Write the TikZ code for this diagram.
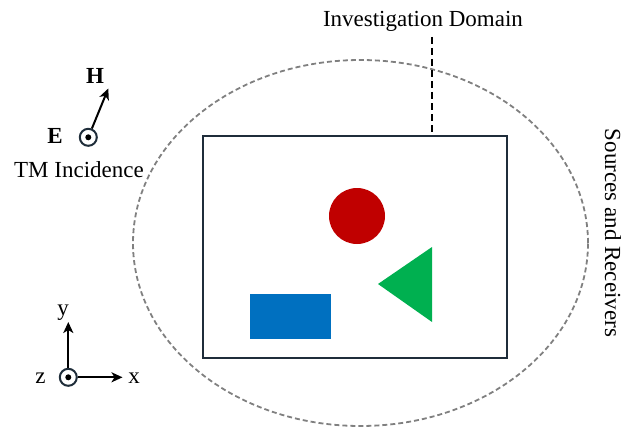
\documentclass[tikz,border=0pt]{standalone}
\usepackage{fontspec}
\setmainfont{Liberation Serif}
\usetikzlibrary{arrows.meta,shapes.geometric}
\definecolor{navy}{HTML}{1F2D3A}
\definecolor{dred}{HTML}{C00000}
\definecolor{dgreen}{HTML}{00B050}
\definecolor{dblue}{HTML}{0070C0}
\definecolor{dgray}{HTML}{808080}
\tikzset{
  lbl/.style={font=\fontsize{23}{27}\selectfont, inner sep=0pt},
  blbl/.style={font=\fontsize{23}{27}\selectfont\bfseries, inner sep=0pt},
  domainbox/.style={draw=navy, line width=2.2pt, minimum width=304pt, minimum height=222pt, inner sep=0pt},
  srcring/.style={ellipse, draw=dgray, line width=1.8pt, dash pattern=on 5pt off 3pt, minimum width=455pt, minimum height=366pt, inner sep=0pt},
  fieldring/.style={circle, draw=navy, line width=2pt, minimum size=17pt, inner sep=0pt},
  fielddot/.style={circle, fill=black, minimum size=6pt, inner sep=0pt},
  arr/.style={line width=2pt, -{Stealth[length=11pt,width=10pt,inset=3pt]}},
  leader/.style={line width=1.8pt, dash pattern=on 7pt off 4pt}
}
\begin{document}
\begin{tikzpicture}[x=1pt,y=-1pt]
\useasboundingbox (0,0) rectangle (632,428);
% sources and receivers ring
\node[srcring] (ring) at (360.5,243) {};
% investigation domain
\node[domainbox] (dom) at (355,247) {};
% scatterers
\node[circle, fill=dred, minimum size=56pt, inner sep=0pt] (disk) at (357,216) {};
\coordinate (t1) at (432,247);
\coordinate (t2) at (378,284);
\coordinate (t3) at (432,322);
\fill[dgreen] (t1) -- (t2) -- (t3) -- cycle;
\node[fill=dblue, minimum width=81pt, minimum height=45pt, inner sep=0pt] (blk) at (290.5,316.5) {};
% domain label
\node[lbl, anchor=base] (domlbl) at (423,27) {Investigation Domain};
\coordinate (ldtop) at (432,37);
\draw[leader] (ldtop) -- (dom.north -| ldtop);
% sources label
\node[lbl, rotate=-90] (srclbl) at (613,233) {Sources and Receivers};
% TM incidence
\node[fieldring] (efld) at (88.3,137.3) {};
\node[fielddot] (edot) at (efld.center) {};
\coordinate (htip) at (108.3,88.5);
\draw[arr] (efld) -- (htip);
\node[blbl, anchor=base] (hlbl) at (95,83.5) {H};
\node[blbl, anchor=base] (elbl) at (55,143.5) {E};
\node[lbl, anchor=base] (tmlbl) at (79,177) {TM Incidence};
% axes
\node[fieldring] (zax) at (68.3,377.3) {};
\node[fielddot] (zdot) at (zax.center) {};
\coordinate (ytip) at (68.3,322);
\coordinate (xtip) at (122.5,377.3);
\draw[arr] (zax) -- (ytip);
\draw[arr] (zax) -- (xtip);
\node[lbl, anchor=base] (ylbl) at (63,315) {y};
\node[lbl, anchor=base] (xlbl) at (134,383.5) {x};
\node[lbl, anchor=base] (zlbl) at (40.5,383.5) {z};
\end{tikzpicture}
\end{document}
